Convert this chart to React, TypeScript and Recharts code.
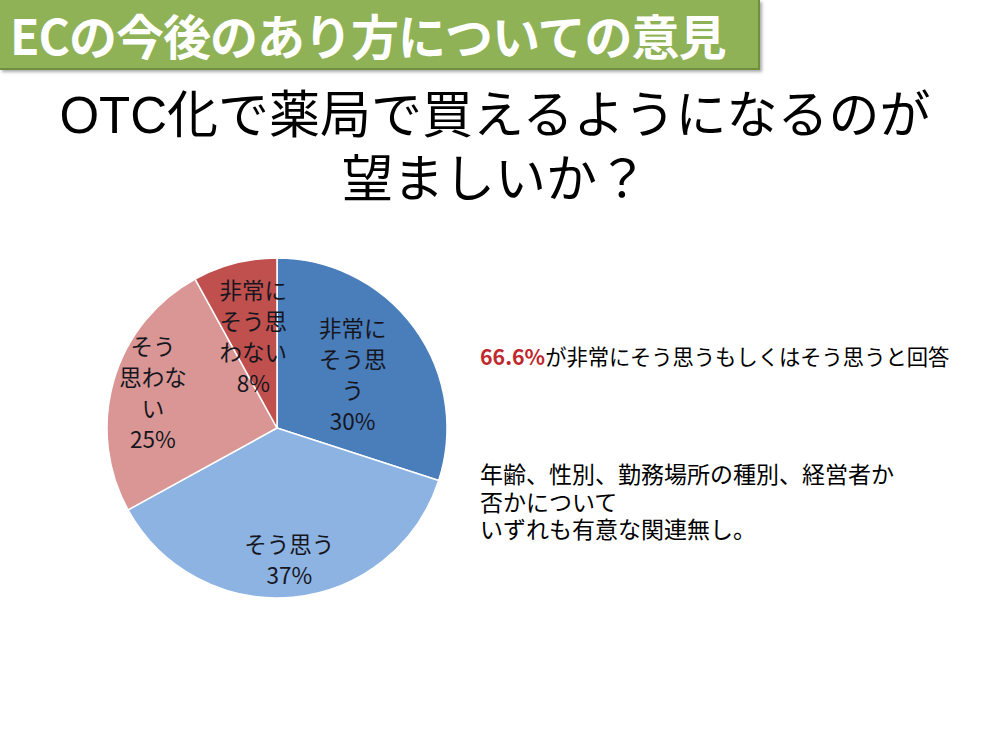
import { PieChart, Pie, Cell } from 'recharts'

const categories = ['非常にそう思う', 'そう思う', 'そう思わない', '非常にそう思わない']
const values = [30, 37, 25, 8]
// line breaks of each slice label as it appears on the slide
const labelLines = [
  ['非常に', 'そう思', 'う'],
  ['そう思う'],
  ['そう', '思わな', 'い'],
  ['非常に', 'そう思', 'わない'],
]
const percentLabels = ['30%', '37%', '25%', '8%']

const COLORS = ['#4a7ebb', '#8db3e2', '#d99694', '#c0504d']
const LABEL_RADIUS = [0.55, 0.77, 0.76, 0.56]
const FONT = '"Noto Sans CJK JP", "Noto Sans", sans-serif'
// Latin-first stack keeps the line boxes tight like the slide
const TIGHT_FONT = '"Liberation Sans", "Noto Sans CJK JP", sans-serif'

const data = categories.map((name, i) => ({ name, value: values[i] }))

const RADIAN = Math.PI / 180

function renderLabel(props: any) {
  const { cx, cy, midAngle, outerRadius, index } = props
  const r = outerRadius * LABEL_RADIUS[index]
  const x = cx + r * Math.cos(-midAngle * RADIAN)
  const y = cy + r * Math.sin(-midAngle * RADIAN)
  const lines = [...labelLines[index], percentLabels[index]]
  const lh = 31
  const top = y - ((lines.length - 1) * lh) / 2
  return (
    <text
      x={x}
      y={top}
      textAnchor="middle"
      dominantBaseline="central"
      fill="#16161e"
      fontSize={22.5}
      fontFamily={FONT}
    >
      {lines.map((l, i) => (
        <tspan key={i} x={x} y={top + i * lh}>
          {l}
        </tspan>
      ))}
    </text>
  )
}

export default function App() {
  return (
    <div
      style={{
        position: 'absolute',
        left: 0,
        top: 0,
        width: 990,
        height: 741,
        background: '#fff',
        fontFamily: FONT,
        overflow: 'hidden',
      }}
    >
      <div
        style={{
          position: 'absolute',
          left: 0,
          top: 0,
          width: 760,
          height: 70,
          background: '#8fb256',
          borderRight: '2px solid #6f8f3e',
          borderBottom: '2px solid #6f8f3e',
          boxShadow: '2px 2px 3px #aaa',
          color: '#fff',
          fontWeight: 'bold',
          fontSize: 48,
          lineHeight: '68px',
          paddingLeft: 10,
          boxSizing: 'border-box',
          letterSpacing: -1,
          whiteSpace: 'nowrap',
        }}
      >
        ECの今後のあり方についての意見
      </div>

      <div
        style={{
          position: 'absolute',
          left: 0,
          top: 84,
          width: 990,
          textAlign: 'center',
          fontFamily: TIGHT_FONT,
          fontSize: 51,
          lineHeight: '64px',
          color: '#000',
          whiteSpace: 'nowrap',
        }}
      >
        OTC化で薬局で買えるようになるのが
        <br />
        望ましいか？
      </div>

      <div style={{ position: 'absolute', left: 77, top: 228 }}>
        <PieChart width={400} height={400} margin={{ top: 0, right: 0, bottom: 0, left: 0 }}>
          <Pie
            data={data}
            dataKey="value"
            nameKey="name"
            cx="50%"
            cy="50%"
            outerRadius={170}
            startAngle={90}
            endAngle={-270}
            stroke="#fff"
            strokeWidth={1.5}
            label={renderLabel}
            labelLine={false}
            isAnimationActive={false}
          >
            {data.map((entry, index) => (
              <Cell key={`cell-${index}`} fill={COLORS[index % COLORS.length]} />
            ))}
          </Pie>
        </PieChart>
      </div>

      <div
        style={{
          position: 'absolute',
          left: 480,
          top: 340,
          fontSize: 21.3,
          color: '#000',
          whiteSpace: 'nowrap',
        }}
      >
        <span style={{ color: '#c0282d', fontWeight: 'bold' }}>66.6%</span>
        が非常にそう思うもしくはそう思うと回答
      </div>

      <div
        style={{
          position: 'absolute',
          left: 480,
          top: 462,
          fontFamily: TIGHT_FONT,
          fontSize: 23,
          lineHeight: '27.5px',
          color: '#000',
          whiteSpace: 'nowrap',
        }}
      >
        年齢、性別、勤務場所の種別、経営者か
        <br />
        否かについて
        <br />
        いずれも有意な関連無し。
      </div>
    </div>
  )
}
